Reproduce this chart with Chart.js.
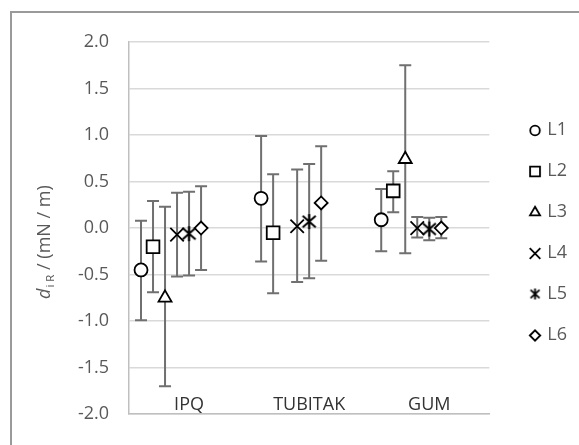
<!DOCTYPE html>
<html>
<head>
<meta charset="utf-8">
<script src="https://cdn.jsdelivr.net/npm/chart.js@4/dist/chart.umd.min.js"></script>
<style>
  html, body { margin: 0; padding: 0; background: #fff; }
</style>
</head>
<body>
<canvas id="chart" width="579" height="445"></canvas>
<script>
const categories = ['IPQ', 'TUBITAK', 'GUM'];
const seriesNames = ['L1', 'L2', 'L3', 'L4', 'L5', 'L6'];

// mean values per lab and comparison, with the ends of the error bars
const L1 = [-0.45, 0.32, 0.09];
const L1High = [0.08, 0.99, 0.42];
const L1Low = [-0.99, -0.36, -0.25];

const L2 = [-0.20, -0.05, 0.40];
const L2High = [0.29, 0.58, 0.61];
const L2Low = [-0.69, -0.70, 0.17];

const L3 = [-0.75, null, 0.74];
const L3High = [0.23, null, 1.75];
const L3Low = [-1.70, null, -0.27];

const L4 = [-0.07, 0.02, 0.00];
const L4High = [0.38, 0.63, 0.12];
const L4Low = [-0.52, -0.58, -0.10];

const L5 = [-0.06, 0.07, -0.01];
const L5High = [0.39, 0.69, 0.11];
const L5Low = [-0.51, -0.54, -0.13];

const L6 = [0.00, 0.27, 0.00];
const L6High = [0.45, 0.88, 0.12];
const L6Low = [-0.45, -0.35, -0.11];

const yTicks = [-2.0, -1.5, -1.0, -0.5, 0.0, 0.5, 1.0, 1.5, 2.0];

const values = [L1, L2, L3, L4, L5, L6];
const highs = [L1High, L2High, L3High, L4High, L5High, L6High];
const lows = [L1Low, L2Low, L3Low, L4Low, L5Low, L6Low];

// each lab sits a little left/right of the comparison centre
const offsets = [-0.4, -0.3, -0.2, -0.1, 0, 0.1];

// the six-armed star marker (X with a vertical stroke)
function starMarker(size, lw) {
  const c = document.createElement('canvas');
  c.width = size; c.height = size;
  const g = c.getContext('2d');
  const m = size / 2, a = size / 2 - 2;
  g.strokeStyle = '#000'; g.lineWidth = lw;
  g.beginPath();
  g.moveTo(m - a, m - a * 0.9); g.lineTo(m + a, m + a * 0.9);
  g.moveTo(m + a, m - a * 0.9); g.lineTo(m - a, m + a * 0.9);
  g.moveTo(m, m - a - 1); g.lineTo(m, m + a + 1);
  g.stroke();
  return c;
}

const styles = ['circle', 'rect', 'triangle', 'crossRot', starMarker(17, 2), 'rectRot'];
const radii = [6.5, 9, 7.5, 9.5, 8, 6.5];
const legendRadii = [4.8, 7, 5.8, 7.5, 0, 5.2];

// small marker pictures for the legend
function legendMarker(s) {
  if (s === 4) return starMarker(13, 1.8);
  const c = document.createElement('canvas');
  c.width = 16; c.height = 16;
  const g = c.getContext('2d');
  g.strokeStyle = '#000'; g.fillStyle = '#fff'; g.lineWidth = 1.8;
  Chart.helpers.drawPoint(g, { pointStyle: styles[s], radius: legendRadii[s], borderWidth: 1.8, rotation: 0 }, 8, 8.5);
  return c;
}

const FONT = '"Open Sans", "Noto Sans", sans-serif';

const datasets = seriesNames.map((name, s) => ({
  label: name,
  data: categories.map((c, i) => ({ x: i + 0.5 + offsets[s], y: values[s][i] })),
  high: highs[s],
  low: lows[s],
  pointStyle: styles[s],
  pointRadius: radii[s],
  pointHoverRadius: radii[s],
  borderColor: '#000',
  backgroundColor: '#fff',
  borderWidth: 1.8,
  showLine: false
}));

const frame = {
  id: 'frame',
  beforeDraw(chart) {
    const ctx = chart.ctx;
    ctx.save();
    ctx.fillStyle = '#fff';
    ctx.fillRect(0, 0, chart.width, chart.height);
    ctx.strokeStyle = '#9a9a9a';
    ctx.lineWidth = 2;
    ctx.strokeRect(11, 12, chart.width + 20, chart.height + 20);
    ctx.restore();
  }
};

const errorBars = {
  id: 'errorBars',
  beforeDatasetsDraw(chart) {
    const ctx = chart.ctx, y = chart.scales.y;
    ctx.save();
    ctx.strokeStyle = '#707070';
    ctx.lineWidth = 2;
    chart.data.datasets.forEach((ds, d) => {
      chart.getDatasetMeta(d).data.forEach((pt, i) => {
        if (ds.high[i] == null || isNaN(pt.x)) return;
        const top = y.getPixelForValue(ds.high[i]);
        const bot = y.getPixelForValue(ds.low[i]);
        ctx.beginPath();
        ctx.moveTo(pt.x, top); ctx.lineTo(pt.x, bot);
        ctx.moveTo(pt.x - 6, top); ctx.lineTo(pt.x + 6, top);
        ctx.moveTo(pt.x - 6, bot); ctx.lineTo(pt.x + 6, bot);
        ctx.stroke();
      });
    });
    ctx.restore();
  }
};

const labels = {
  id: 'labels',
  afterDraw(chart) {
    const ctx = chart.ctx, x = chart.scales.x, area = chart.chartArea;
    ctx.save();
    // category names just above the bottom axis
    ctx.fillStyle = '#333';
    ctx.font = '18px ' + FONT;
    ctx.textAlign = 'center';
    ctx.textBaseline = 'middle';
    categories.forEach((c, i) => ctx.fillText(c, x.getPixelForValue(i + 0.5), area.bottom - 9));

    // y axis title: d_{i R} / (mN / m)
    ctx.translate(50, 299);
    ctx.rotate(-Math.PI / 2);
    ctx.fillStyle = '#595959';
    ctx.textAlign = 'left';
    ctx.textBaseline = 'alphabetic';
    let pos = 0;
    ctx.font = 'italic 18px ' + FONT;
    ctx.fillText('d', pos, 0);
    pos += ctx.measureText('d').width + 1;
    ctx.font = '11.5px ' + FONT;
    ctx.fillText('i R', pos, 4);
    pos += ctx.measureText('i R').width;
    ctx.font = '18px ' + FONT;
    ctx.fillText(' / (mN / m)', pos, 0);
    ctx.restore();
  }
};

new Chart(document.getElementById('chart'), {
  type: 'scatter',
  data: { datasets },
  options: {
    responsive: false,
    animation: false,
    events: [],
    layout: { padding: { left: 0, top: 42, right: 2, bottom: 22 } },
    scales: {
      x: {
        type: 'linear',
        min: 0, max: 3,
        ticks: { display: false },
        grid: { display: false },
        border: { display: true, color: '#bfbfbf', width: 1.5 },
        afterFit(s) { s.height = 0; }
      },
      y: {
        min: -2, max: 2,
        afterBuildTicks(s) { s.ticks = yTicks.map(v => ({ value: v })); },
        ticks: {
          padding: 20,
          color: '#595959',
          font: { family: FONT, size: 18 },
          callback: v => v.toFixed(1)
        },
        grid: { color: '#d9d9d9', lineWidth: 1.5, drawTicks: false },
        border: { display: true, color: '#bfbfbf', width: 1.5 },
        afterFit(s) { s.width = 129; }
      },
      gap: {
        position: 'right',
        display: true,
        ticks: { display: false },
        grid: { display: false },
        border: { display: false },
        afterFit(s) { s.width = 19.5; }
      }
    },
    plugins: {
      legend: {
        position: 'right',
        align: 'center',
        labels: {
          usePointStyle: true,
          boxWidth: 6.5,
          boxHeight: 6.5,
          padding: 23,
          color: '#595959',
          font: { family: FONT, size: 18 },
          generateLabels(chart) {
            const items = Chart.defaults.plugins.legend.labels.generateLabels(chart);
            items.forEach((it, s) => { it.pointStyle = legendMarker(s); });
            return items;
          }
        }
      },
      tooltip: { enabled: false }
    }
  },
  plugins: [frame, errorBars, labels]
});
</script>
</body>
</html>
